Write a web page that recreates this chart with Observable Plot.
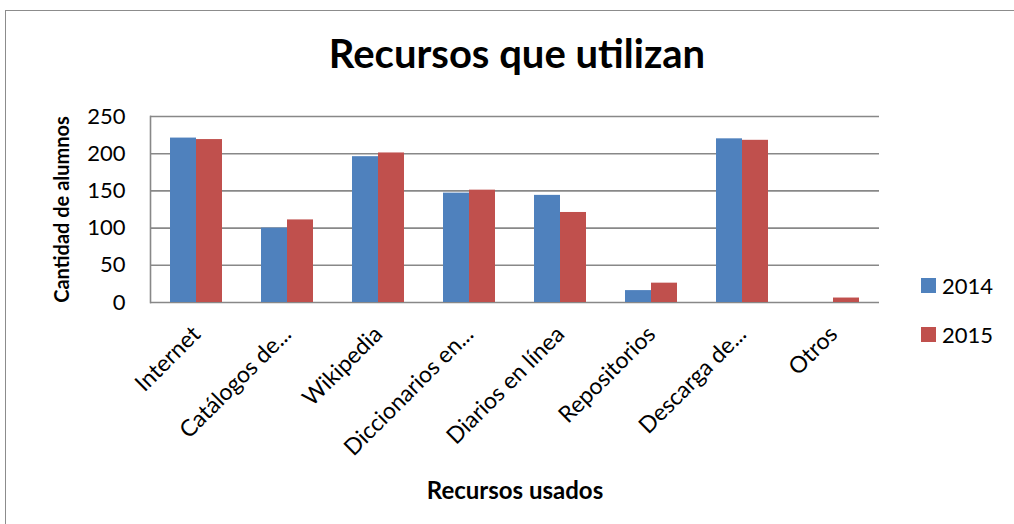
<!DOCTYPE html>
<html>
<head>
<meta charset="utf-8">
<script src="https://cdn.jsdelivr.net/npm/d3@7"></script>
<script src="https://cdn.jsdelivr.net/npm/@observablehq/plot@0.6"></script>
<style>
  html, body { margin: 0; padding: 0; background: #fff; }
  #wrap { position: relative; width: 1014px; height: 524px; overflow: hidden; font-family: Lato, "Open Sans", sans-serif; }
  #border { position: absolute; left: 5px; top: 10px; width: 1020px; height: 530px; border: 1.5px solid #8c8c8c; box-sizing: border-box; }
  #title { position: absolute; left: 0; width: 1034px; top: 29px; text-align: center; font-size: 40px; font-weight: bold; color: #000; }
  #chart { position: absolute; left: 0; top: 0; }
  #legend { position: absolute; left: 921px; top: 272px; font-size: 22px; color: #000; }
  .item { display: flex; align-items: center; height: 26px; margin-bottom: 23px; }
  .sw { width: 15px; height: 15px; margin-right: 6px; }
</style>
</head>
<body>
<div id="wrap">
  <div id="border"></div>
  <div id="title">Recursos que utilizan</div>
  <div id="chart"></div>
  <div id="legend"></div>
</div>
<script>
const categories = ["Internet", "Catálogos de...", "Wikipedia", "Diccionarios en...", "Diarios en línea", "Repositorios", "Descarga de...", "Otros"];
const years = ["2014", "2015"];
const values2014 = [221, 100, 196, 147, 144, 16, 220, 0];
const values2015 = [219, 111, 201, 151, 121, 26, 218, 6];
const yTicks = [0, 50, 100, 150, 200, 250];
const colors = ["#4F81BD", "#C0504D"];

const rows2014 = categories.map((c, i) => ({category: c, year: years[0], value: values2014[i]}));
const rows2015 = categories.map((c, i) => ({category: c, year: years[1], value: values2015[i]}));

const plot = Plot.plot({
  width: 1014,
  height: 524,
  marginLeft: 150,
  marginRight: 135,
  marginTop: 116,
  marginBottom: 222,
  style: {fontFamily: "Lato, 'Open Sans', sans-serif", fontSize: "22px", color: "#000", background: "transparent"},
  x: {domain: categories, paddingInner: 0.43, paddingOuter: 0.215, label: null},
  y: {domain: [0, 250], ticks: yTicks, label: null},
  color: {domain: years, range: colors},
  marks: [
    Plot.ruleY(yTicks, {stroke: "#888", strokeWidth: 1.6}),
    Plot.barY(rows2014, {x: "category", y: "value", fill: "year", insetLeft: 0, insetRight: 26}),
    Plot.barY(rows2015, {x: "category", y: "value", fill: "year", insetLeft: 26, insetRight: 0}),
    Plot.axisY({ticks: yTicks, tickSize: 0, tickPadding: 25, fontSize: 22, label: "Cantidad de alumnos", labelAnchor: "center", labelOffset: 96, labelArrow: "none"}),
    Plot.axisX({tickSize: 0, tickRotate: -45, tickPadding: 28, fontSize: 23, label: "Recursos usados", labelAnchor: "center", labelOffset: 196, labelArrow: "none"}),
    Plot.frame({anchor: "left", stroke: "#888", strokeWidth: 1.6})
  ]
});
// Bold axis titles
plot.querySelectorAll("[aria-label='y-axis label'] text").forEach(t => {
  t.setAttribute("font-weight", "bold");
  t.setAttribute("font-size", "20");
});
plot.querySelectorAll("[aria-label='x-axis label'] text").forEach(t => {
  t.setAttribute("font-weight", "bold");
  t.setAttribute("font-size", "24");
});
document.getElementById("chart").appendChild(plot);

const legend = document.getElementById("legend");
const color = plot.scale("color");
years.forEach((y, i) => {
  const item = document.createElement("div");
  item.className = "item";
  const sw = document.createElement("div");
  sw.className = "sw";
  sw.style.background = color.range[i];
  const lab = document.createElement("span");
  lab.textContent = y;
  item.appendChild(sw);
  item.appendChild(lab);
  legend.appendChild(item);
});
</script>
</body>
</html>
